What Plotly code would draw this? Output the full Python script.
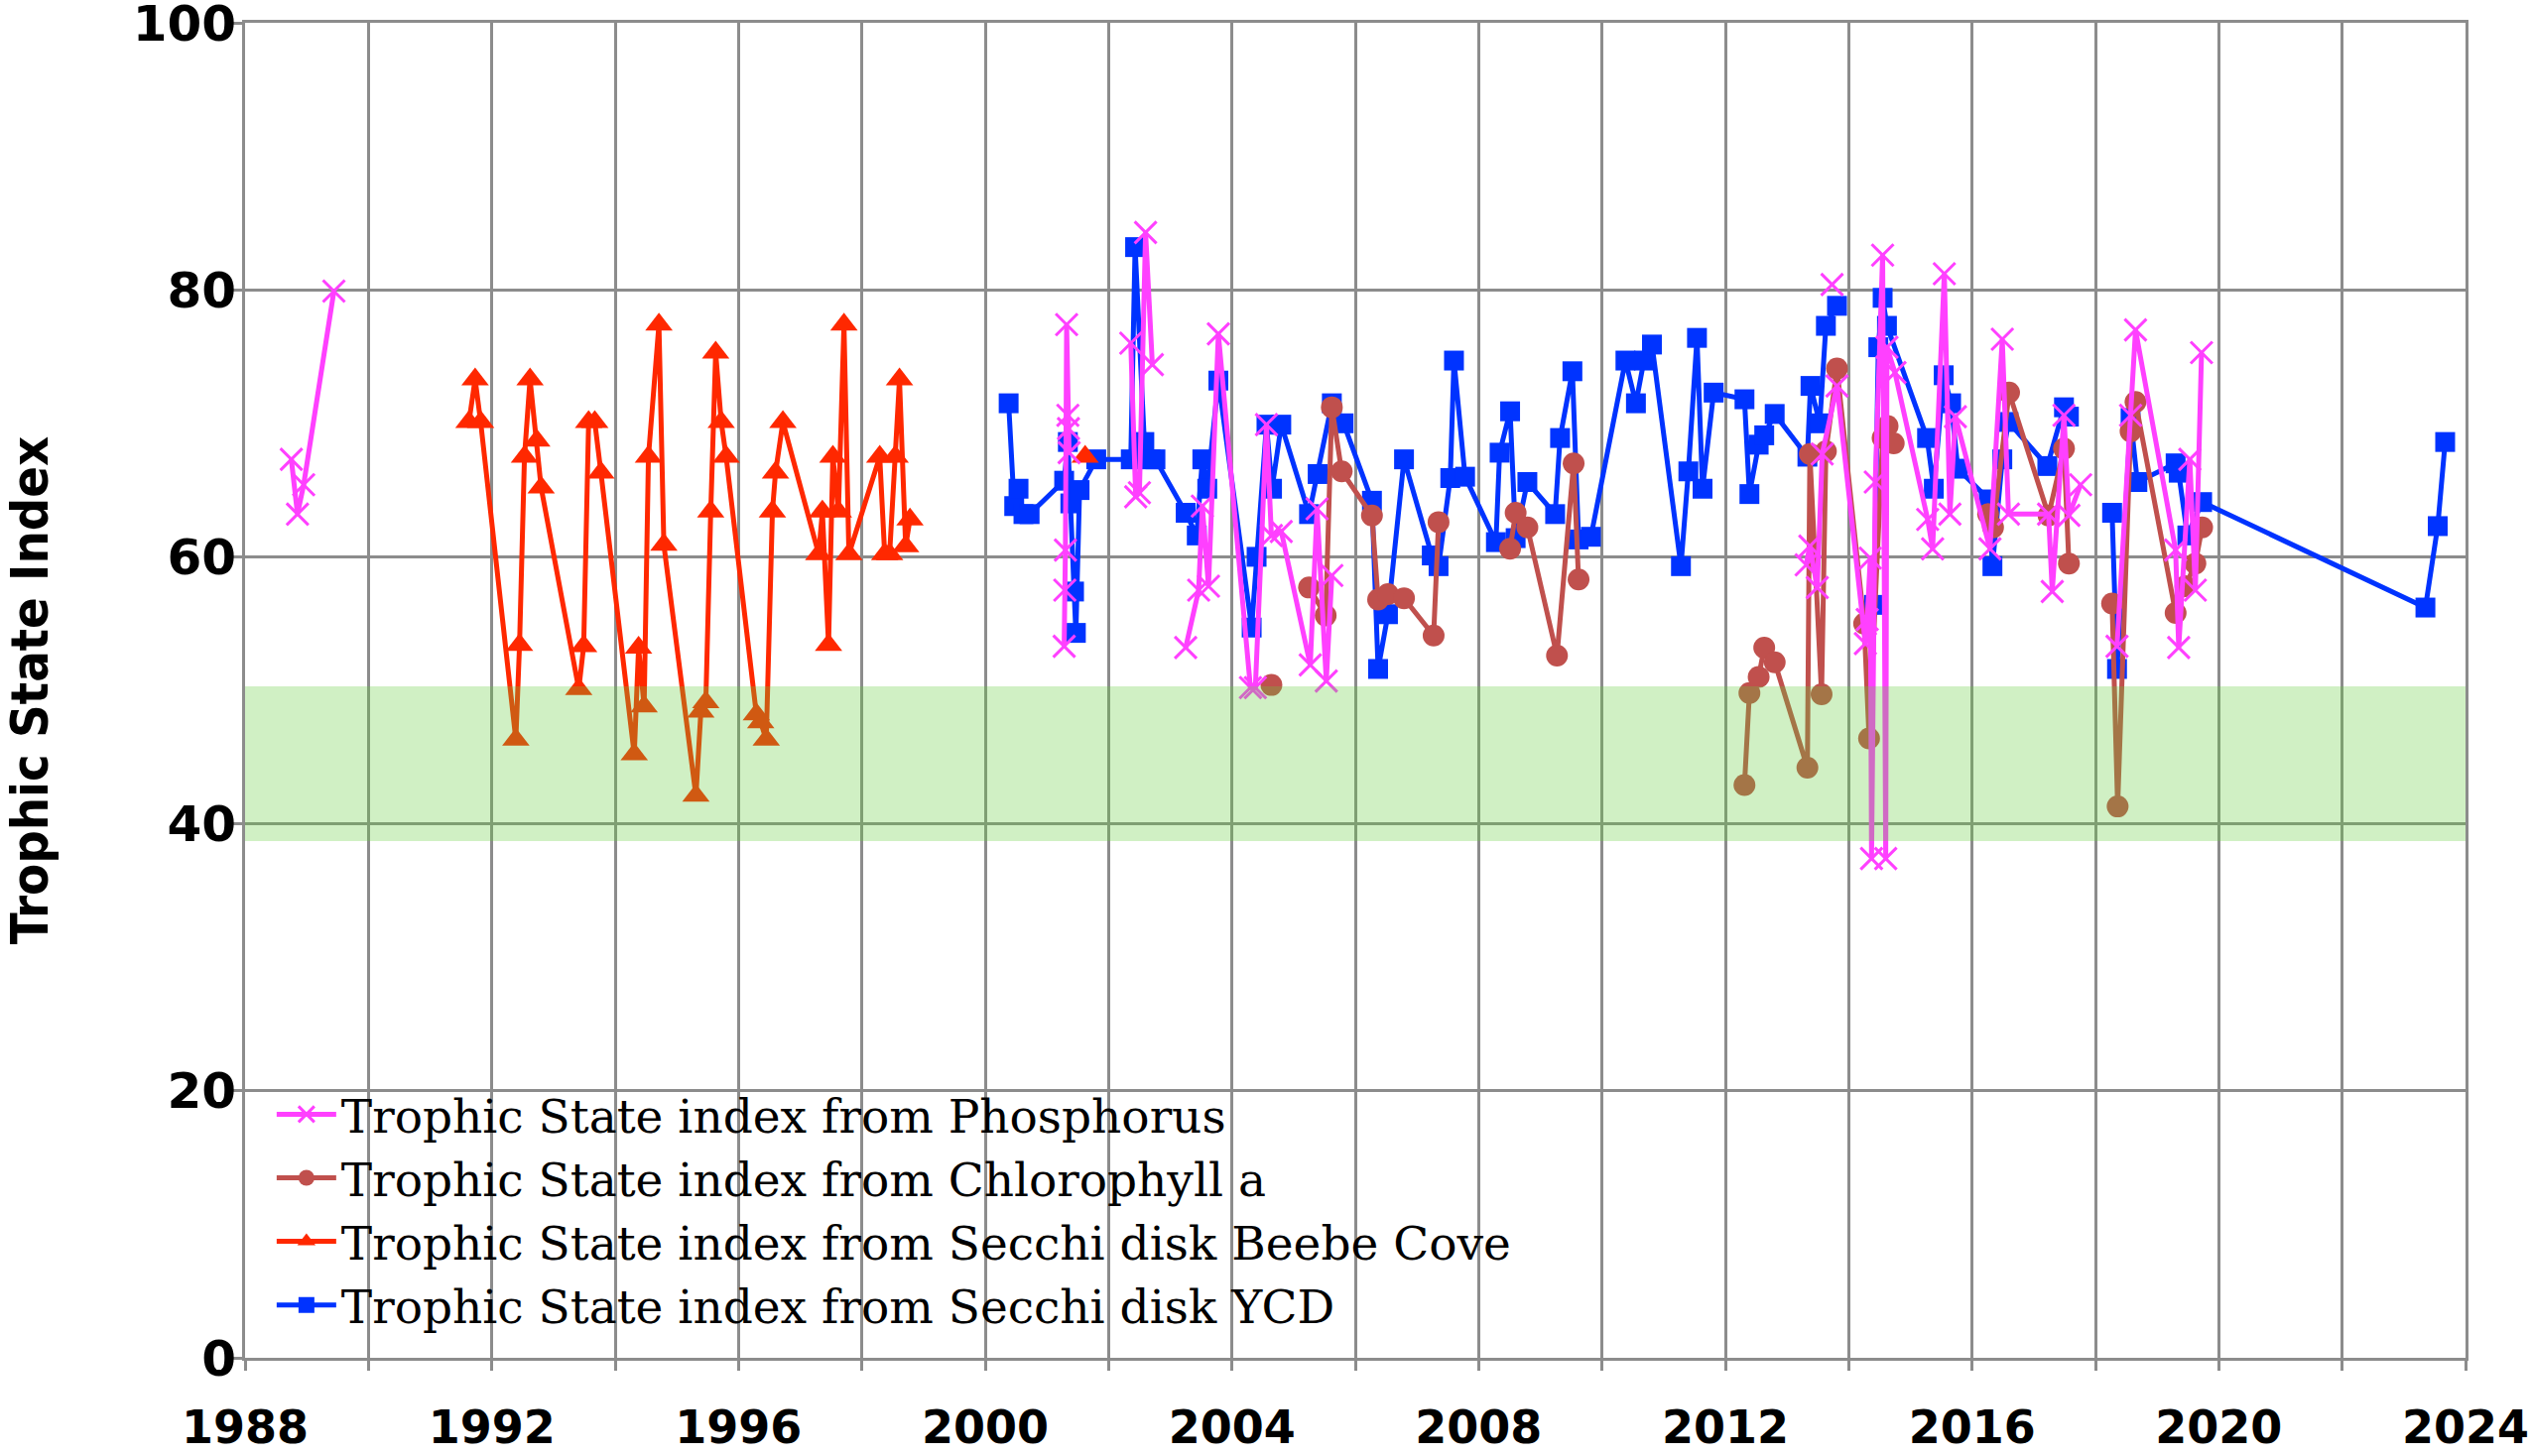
import plotly.graph_objects as go

# tick labels (x grid every 2 years, labels every 4)
x_tickvals = [1988, 1990, 1992, 1994, 1996, 1998, 2000, 2002, 2004, 2006,
              2008, 2010, 2012, 2014, 2016, 2018, 2020, 2022, 2024]
x_ticktext = ['1988', '', '1992', '', '1996', '', '2000', '', '2004', '',
              '2008', '', '2012', '', '2016', '', '2020', '', '2024']
y_tickvals = [0, 20, 40, 60, 80, 100]

# green "mesotrophic" band
band_low = 38.7
band_high = 50.3

# Trophic State index from Phosphorus (None = gap in the record)
phos_x = [1988.75, 1988.85, 1988.95, 1989.44, None,
          2001.28, 2001.29, 2001.30, 2001.32, 2001.34, 2001.35, 2001.36, None,
          2002.36, 2002.44, 2002.50, 2002.60, 2002.71, None,
          2003.25, 2003.46, 2003.52, 2003.62, 2003.78, 2004.30, 2004.38, 2004.56,
          2004.64, 2004.80, 2005.27, 2005.38, 2005.53, 2005.62, None,
          2013.31, 2013.37, 2013.49, 2013.57, 2013.81, 2014.27, 2014.30, 2014.35,
          2014.37, 2014.43, 2014.55, 2014.60, 2014.62, 2014.75, 2015.28, 2015.36,
          2015.55, 2015.64, 2015.73, 2016.29, 2016.49, 2016.59, 2017.24, 2017.30,
          2017.49, 2017.57, 2017.76, None,
          2018.35, 2018.57, 2018.65, 2019.30, 2019.35, 2019.53, 2019.62, 2019.72, None,
          2013.73]
phos_y = [67.3, 63.2, 65.4, 79.9, None,
          53.3, 57.5, 60.5, 77.4, 70.6, 69.6, 67.8, None,
          76.0, 64.5, 64.8, 84.3, 74.4, None,
          53.2, 57.5, 63.8, 57.8, 76.7, 50.2, 50.2, 69.9,
          61.6, 61.9, 51.9, 63.6, 50.7, 58.6, None,
          59.4, 60.8, 57.7, 67.7, 72.8, 53.5, 55.3, 59.9,
          37.4, 65.6, 82.6, 37.4, 75.7, 73.8, 62.8, 60.6,
          81.2, 63.2, 70.5, 60.6, 76.3, 63.2, 63.2, 57.4,
          70.6, 63.1, 65.4, None,
          53.3, 70.6, 77.0, 60.5, 53.2, 67.3, 57.5, 75.3, None,
          80.4]

# Trophic State index from Chlorophyll a
chl_x = [2004.64, None,
         2005.25, 2005.52, 2005.62, 2005.78, 2006.27, 2006.37, 2006.53, 2006.79,
         2007.27, 2007.35, None,
         2008.51, 2008.60, 2008.79, 2009.27, 2009.54, 2009.62, None,
         2012.31, 2012.39, 2012.54, 2012.63, 2012.80, 2013.33, 2013.37, 2013.56,
         2013.63, 2013.81, 2014.25, 2014.33, 2014.55, 2014.63, 2014.73, None,
         2016.26, 2016.34, 2016.60, 2017.24, 2017.49, 2017.57, None,
         2018.27, 2018.36, 2018.57, 2018.65, 2019.30, 2019.46, 2019.62, 2019.73]
chl_y = [50.4, None,
         57.7, 55.6, 71.2, 66.4, 63.1, 56.8, 57.2, 56.9,
         54.1, 62.6, None,
         60.6, 63.3, 62.2, 52.6, 67.0, 58.3, None,
         42.9, 49.8, 51.0, 53.2, 52.1, 44.2, 67.7, 49.7,
         67.9, 74.1, 55.0, 46.4, 68.9, 69.8, 68.5, None,
         63.2, 62.2, 72.3, 63.1, 68.1, 59.5, None,
         56.5, 41.3, 69.4, 71.6, 55.8, 57.8, 59.5, 62.2]

# Trophic State index from Secchi disk Beebe Cove
beebe_x = [1991.63, 1991.73, 1991.82, 1992.39, 1992.45, 1992.53, 1992.62, 1992.73,
           1992.80, 1993.41, 1993.49, 1993.57, 1993.67, 1993.77, 1994.31, 1994.38,
           1994.47, 1994.54, 1994.71, 1994.79, 1995.31, 1995.39, 1995.47, 1995.55,
           1995.63, 1995.72, 1995.80, 1996.29, 1996.36, 1996.45, 1996.55, 1996.60,
           1996.72, 1997.30, 1997.36, 1997.46, 1997.53, 1997.62, 1997.71, 1997.79,
           1998.29, 1998.37, 1998.45, 1998.54, 1998.61, 1998.71, 1998.78, None,
           2001.62]
beebe_y = [70.1, 73.3, 70.1, 46.3, 53.4, 67.5, 73.3, 68.7,
           65.2, 50.1, 53.3, 70.1, 70.1, 66.3, 45.2, 53.2,
           48.8, 67.5, 77.4, 60.9, 42.1, 48.4, 49.1, 63.4,
           75.3, 70.1, 67.5, 48.2, 47.6, 46.3, 63.4, 66.3,
           70.1, 60.2, 63.4, 53.4, 67.5, 63.4, 77.4, 60.2,
           67.5, 60.2, 60.2, 67.5, 73.3, 60.8, 62.8, None,
           67.5]

# Trophic State index from Secchi disk YCD
ycd_x = [2000.38, 2000.47, 2000.54, 2000.62, 2000.72, 2001.28, 2001.34, 2001.38,
         2001.44, 2001.47, 2001.53, 2001.80, 2002.36, 2002.43, 2002.58, 2002.68,
         2002.76, 2003.25, 2003.43, 2003.52, 2003.60, 2003.78, 2004.32, 2004.40,
         2004.56, 2004.65, 2004.80, 2005.25, 2005.39, 2005.62, 2005.81, 2006.27,
         2006.37, 2006.53, 2006.79, 2007.24, 2007.35, 2007.54, 2007.60, 2007.78,
         2008.28, 2008.34, 2008.51, 2008.60, 2008.79, 2009.24, 2009.32, 2009.52,
         2009.62, 2009.82, 2010.38, 2010.55, 2010.68, 2010.81, 2011.28, 2011.40,
         2011.54, 2011.63, 2011.81, 2012.31, 2012.39, 2012.54, 2012.63, 2012.80,
         2013.33, 2013.38, 2013.53, 2013.63, 2013.81, None,
         2014.41, 2014.48, 2014.55, 2014.62, 2015.27, 2015.38, 2015.54, 2015.66,
         2015.77, 2016.27, 2016.33, 2016.49, 2016.59, 2017.22, 2017.49, 2017.57, None,
         2018.27, 2018.35, 2018.57, 2018.68, 2019.30, 2019.35, 2019.49, 2019.73,
         2023.35, 2023.55, 2023.67]
ycd_y = [71.5, 63.8, 65.1, 63.2, 63.2, 65.7, 68.6, 64.0,
         57.4, 54.3, 65.0, 67.3, 67.3, 83.2, 68.6, 67.3,
         67.3, 63.3, 61.6, 67.3, 65.1, 73.2, 54.7, 60.0,
         69.9, 65.1, 69.9, 63.2, 66.2, 71.5, 70.0, 64.2,
         51.6, 55.7, 67.3, 60.1, 59.3, 65.9, 74.7, 66.0,
         61.1, 67.8, 70.9, 61.4, 65.6, 63.2, 68.9, 73.9,
         61.3, 61.5, 74.7, 71.5, 74.7, 75.9, 59.3, 66.4,
         76.4, 65.1, 72.3, 71.8, 64.7, 68.4, 69.1, 70.7,
         67.5, 72.8, 70.0, 77.3, 78.8, None,
         56.4, 75.7, 79.4, 77.3, 68.9, 65.1, 73.6, 71.5,
         66.6, 64.3, 59.3, 67.3, 70.1, 66.8, 71.2, 70.5, None,
         63.3, 51.6, 70.4, 65.6, 67.0, 66.3, 61.6, 64.1,
         56.2, 62.3, 68.6]

GRID = '#8c8c8c'

fig = go.Figure()

# bottom-most first, legend is reversed afterwards
fig.add_trace(go.Scatter(
    x=ycd_x, y=ycd_y, mode='lines+markers',
    name='Trophic State index from Secchi disk YCD',
    line=dict(color='rgb(0,51,255)', width=5),
    marker=dict(symbol='square', size=20, color='rgb(0,51,255)'),
))
fig.add_trace(go.Scatter(
    x=beebe_x, y=beebe_y, mode='lines+markers',
    name='Trophic State index from Secchi disk Beebe Cove',
    line=dict(color='rgb(255,40,0)', width=5),
    marker=dict(symbol='triangle-up', size=24, color='rgb(255,40,0)'),
))
fig.add_trace(go.Scatter(
    x=chl_x, y=chl_y, mode='lines+markers',
    name='Trophic State index from Chlorophyll a',
    line=dict(color='rgb(192,80,77)', width=5),
    marker=dict(symbol='circle', size=22, color='rgb(192,80,77)'),
))
fig.add_trace(go.Scatter(
    x=phos_x, y=phos_y, mode='lines+markers',
    name='Trophic State index from Phosphorus',
    line=dict(color='rgb(255,64,255)', width=5),
    marker=dict(symbol='x-thin', size=22, color='rgb(255,64,255)',
                line=dict(width=3, color='rgb(255,64,255)')),
))

fig.update_layout(
    width=2550,
    height=1468,
    margin=dict(l=247, r=65, t=23, b=99, autoexpand=False),
    paper_bgcolor='white',
    plot_bgcolor='white',
    showlegend=True,
    legend=dict(
        x=0.012, y=0.21, xanchor='left', yanchor='top',
        traceorder='reversed',
        bgcolor='rgba(255,255,255,0)',
        font=dict(family='DejaVu Serif, Liberation Serif, serif', size=47, color='black'),
        itemwidth=60,
        tracegroupgap=0,
    ),
    shapes=[
        go.layout.Shape(
            type='rect',
            xref='x', yref='y',
            x0=1988, x1=2024,
            y0=band_low, y1=band_high,
            fillcolor='rgb(98,205,58)',
            opacity=0.3,
            line=dict(width=0),
            layer='above'
        )
    ],
    xaxis=dict(
        range=[1988, 2024],
        tickvals=x_tickvals,
        ticktext=x_ticktext,
        automargin=False,
        showgrid=True,
        gridcolor=GRID,
        gridwidth=2.5,
        zeroline=False,
        showline=True,
        mirror=True,
        linecolor=GRID,
        linewidth=2.5,
        ticks='outside',
        ticklen=10,
        tickwidth=2.5,
        tickcolor=GRID,
        ticklabelstandoff=18,
        ticklabeloverflow='allow',
        tickfont=dict(family='DejaVu Sans, Arial, sans-serif', size=46,
                      color='black', weight='bold'),
    ),
    yaxis=dict(
        range=[0, 100],
        tickvals=y_tickvals,
        automargin=False,
        showgrid=True,
        gridcolor=GRID,
        gridwidth=2.5,
        zeroline=False,
        showline=True,
        mirror=True,
        linecolor=GRID,
        linewidth=3,
        ticks='outside',
        ticklen=10,
        tickwidth=2.5,
        tickcolor=GRID,
        ticklabelstandoff=-14,
        ticklabeloverflow='allow',
        tickfont=dict(family='DejaVu Sans, Arial, sans-serif', size=50,
                      color='black', weight='bold'),
        title=dict(
            text='Trophic State Index',
            standoff=100,
            font=dict(family='Liberation Sans Narrow, DejaVu Sans Condensed, Arial Narrow, sans-serif',
                      size=52, color='black', weight='bold'),
        ),
    ),
)

# drop the browser's default body margin so the figure fills the window exactly
fig.write_html('out.html', config={'displayModeBar': False},
               post_script="document.body.style.margin='0';")
